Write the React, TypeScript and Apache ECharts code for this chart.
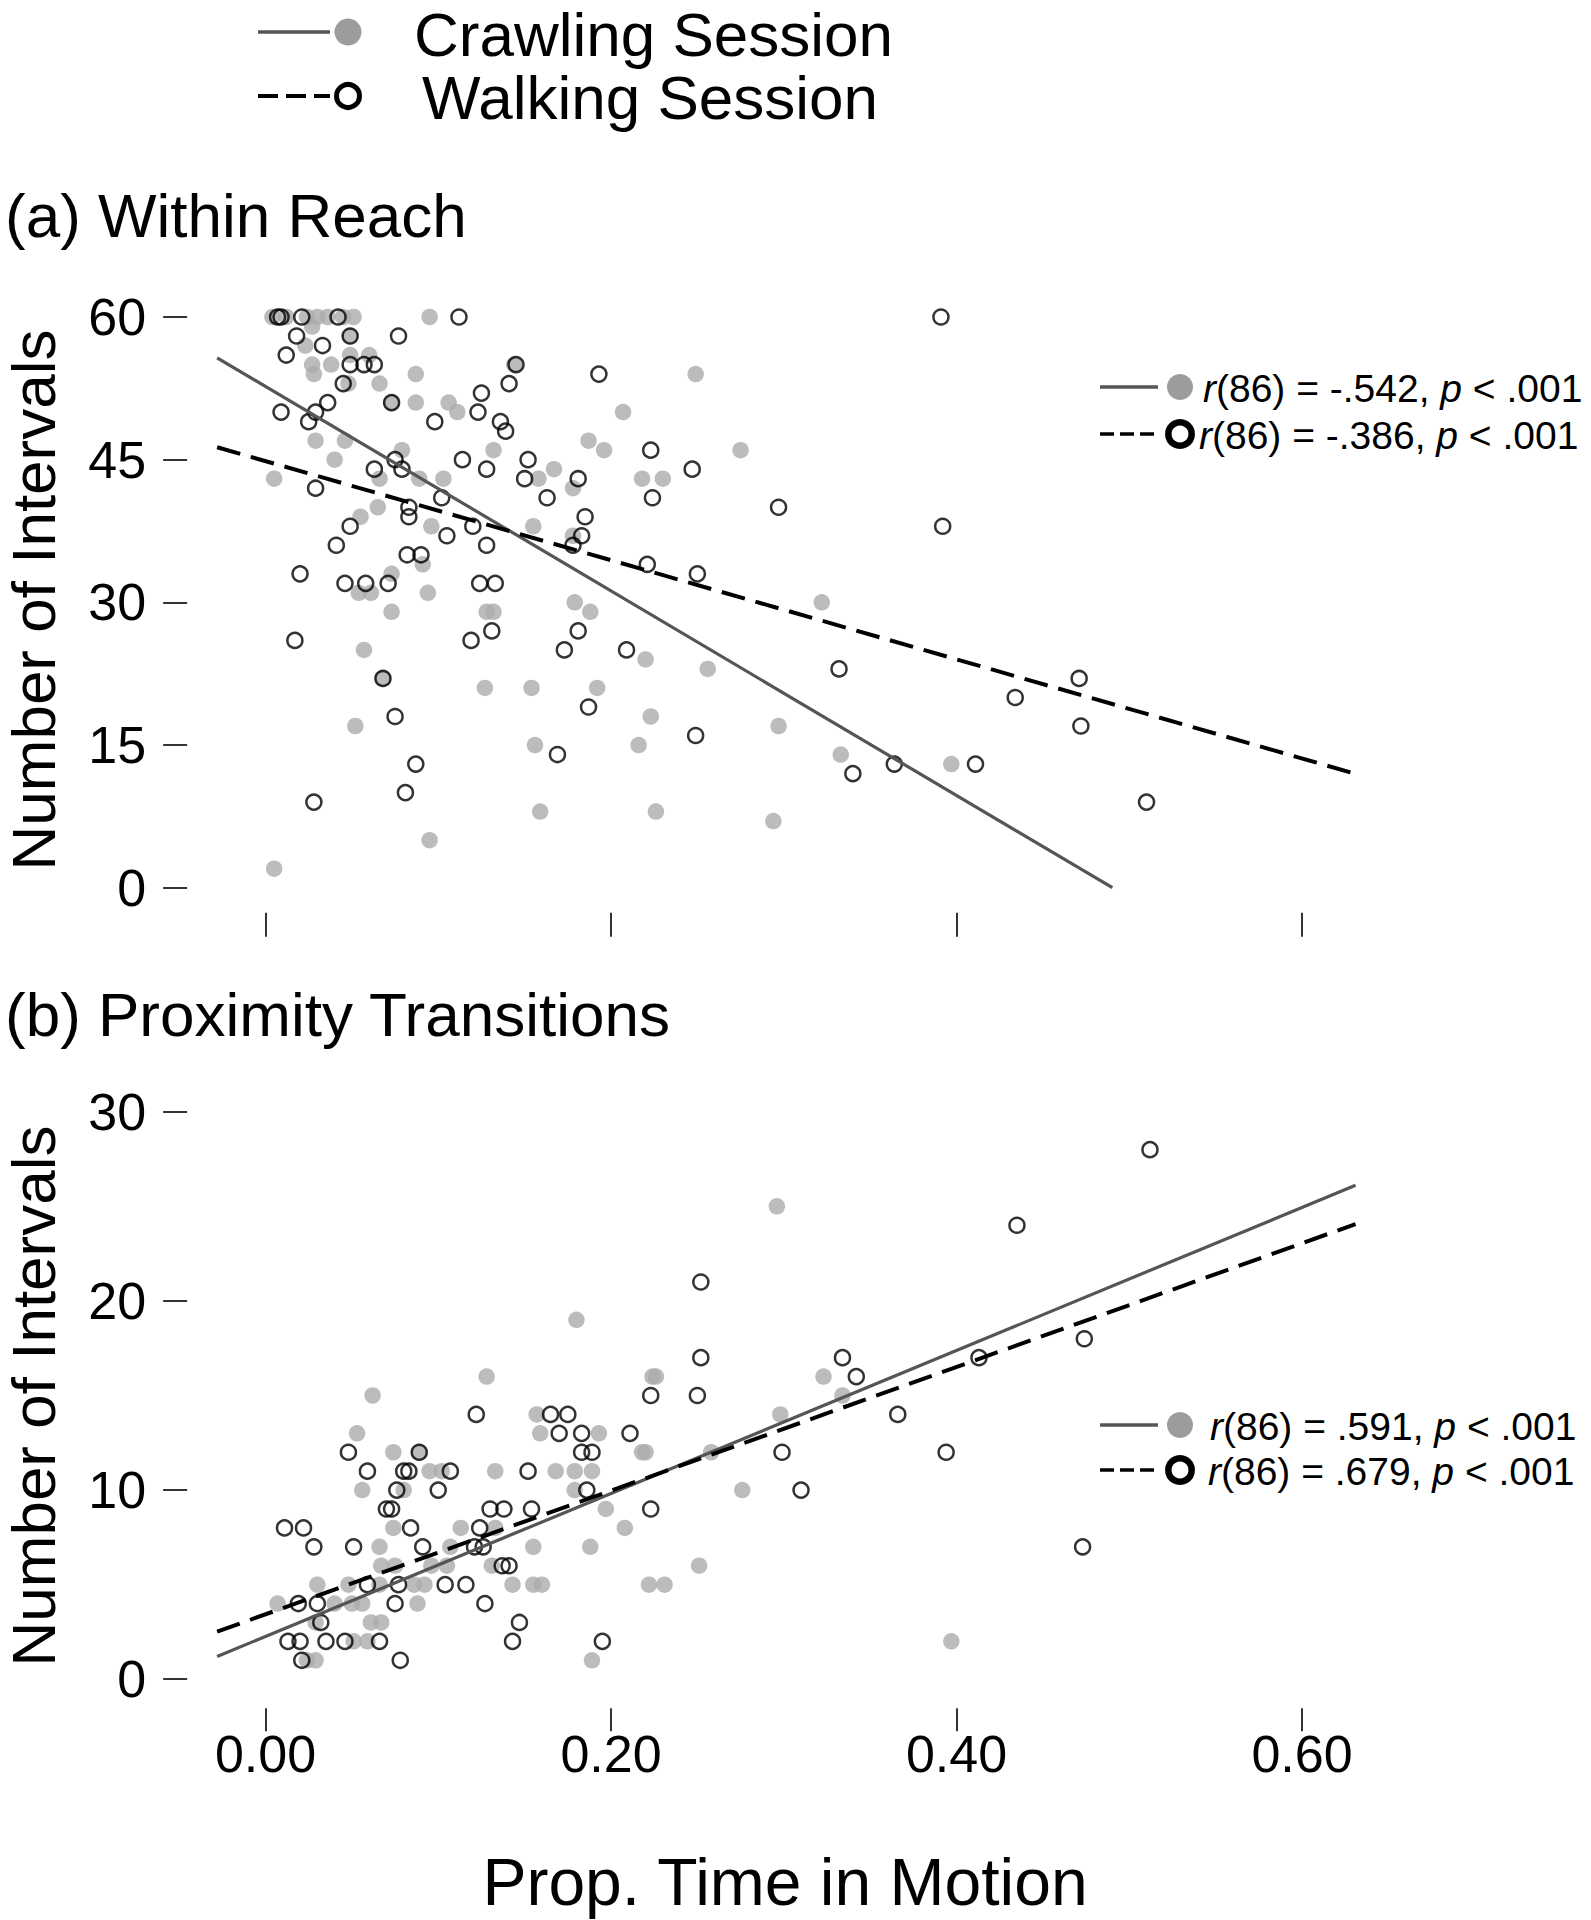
import React, { useEffect, useRef } from "react";
import * as echarts from "echarts";

const FONT = '"Liberation Sans", Arial, Helvetica, sans-serif';

// Axis definitions
const X_TICK_MIN = 0;
const X_TICK_MAX = 0.6;
const X_TICK_STEP = 0.2;
const X_PLOT_RANGE = [-0.028, 0.631];
const TOP_Y = { min: 0, max: 60, step: 15 };
const BOTTOM_Y = { min: 0, max: 30, step: 10 };

// Legend / annotation texts
const LEGEND_LABELS = ["Crawling Session", "Walking Session"];
const PANEL_TITLES = ["(a) Within Reach", "(b) Proximity Transitions"];
const Y_TITLE = "Number of Intervals";
const X_TITLE = "Prop. Time in Motion";
const TOP_STATS = ["{i|r}(86) = -.542, {i|p} < .001", "{i|r}(86) = -.386, {i|p} < .001"];
const BOTTOM_STATS = ["{i|r}(86) = .591, {i|p} < .001", "{i|r}(86) = .679, {i|p} < .001"];

// Regression fits (intercept at x = 0, slope)
const TOP_CRAWLING_FIT = { intercept: 52.7, slope: -107.5 };
const TOP_WALKING_FIT = { intercept: 44.85, slope: -52.1 };
const BOTTOM_CRAWLING_FIT = { intercept: 2.26, slope: 37.8 };
const BOTTOM_WALKING_FIT = { intercept: 3.43, slope: 32.7 };

// (a) Within Reach
const TOP_CRAWLING: [number, number][] = [
  [0.004, 60], [0.012, 60], [0.024, 60], [0.03, 60], [0.036, 60], [0.045, 60], [0.051, 60], [0.095, 60],
  [0.027, 59], [0.049, 58], [0.023, 57], [0.049, 56], [0.06, 56], [0.027, 55], [0.038, 55], [0.144, 55],
  [0.028, 54], [0.087, 54], [0.249, 54], [0.048, 53], [0.066, 53], [0.073, 51], [0.087, 51], [0.106, 51],
  [0.111, 50], [0.207, 50], [0.029, 47], [0.046, 47], [0.187, 47], [0.079, 46], [0.132, 46], [0.196, 46], [0.275, 46],
  [0.04, 45], [0.167, 44], [0.005, 43], [0.066, 43], [0.089, 43], [0.103, 43], [0.158, 43], [0.218, 43], [0.23, 43],
  [0.178, 42], [0.065, 40], [0.055, 39], [0.096, 38], [0.155, 38], [0.178, 37], [0.091, 34], [0.073, 33],
  [0.054, 31], [0.061, 31], [0.094, 31], [0.179, 30], [0.322, 30], [0.073, 29], [0.128, 29], [0.132, 29], [0.188, 29],
  [0.057, 25], [0.22, 24], [0.256, 23], [0.068, 22], [0.127, 21], [0.154, 21], [0.192, 21], [0.223, 18], [0.052, 17], [0.297, 17],
  [0.156, 15], [0.216, 15], [0.333, 14], [0.397, 13], [0.159, 8], [0.226, 8], [0.294, 7], [0.095, 5], [0.005, 2],
];

const TOP_WALKING: [number, number][] = [
  [0.007, 60], [0.009, 60], [0.021, 60], [0.042, 60], [0.112, 60], [0.391, 60],
  [0.018, 58], [0.049, 58], [0.077, 58], [0.033, 57], [0.012, 56], [0.049, 55], [0.057, 55], [0.063, 55], [0.145, 55],
  [0.193, 54], [0.045, 53], [0.141, 53], [0.125, 52], [0.036, 51], [0.073, 51], [0.009, 50], [0.029, 50], [0.123, 50],
  [0.025, 49], [0.098, 49], [0.136, 49], [0.139, 48], [0.223, 46], [0.075, 45], [0.114, 45], [0.152, 45],
  [0.063, 44], [0.079, 44], [0.128, 44], [0.247, 44], [0.15, 43], [0.181, 43], [0.029, 42], [0.102, 41], [0.163, 41], [0.224, 41],
  [0.083, 40], [0.297, 40], [0.083, 39], [0.185, 39], [0.049, 38], [0.12, 38], [0.392, 38], [0.105, 37], [0.183, 37],
  [0.041, 36], [0.128, 36], [0.178, 36], [0.082, 35], [0.09, 35], [0.221, 34], [0.02, 33], [0.25, 33],
  [0.046, 32], [0.058, 32], [0.071, 32], [0.124, 32], [0.133, 32], [0.131, 27], [0.181, 27], [0.017, 26], [0.119, 26],
  [0.173, 25], [0.209, 25], [0.332, 23], [0.068, 22], [0.471, 22], [0.434, 20], [0.187, 19], [0.075, 18], [0.249, 16],
  [0.472, 17], [0.169, 14], [0.087, 13], [0.364, 13], [0.411, 13], [0.34, 12], [0.081, 10], [0.028, 9], [0.51, 9],
];

// (b) Proximity Transitions
const BOTTOM_CRAWLING: [number, number][] = [
  [0.18, 19], [0.128, 16], [0.224, 16], [0.226, 16], [0.062, 15], [0.157, 14], [0.053, 13], [0.159, 13], [0.193, 13],
  [0.074, 12], [0.089, 12], [0.218, 12], [0.22, 12], [0.095, 11], [0.102, 11], [0.133, 11], [0.168, 11], [0.179, 11], [0.189, 11],
  [0.056, 10], [0.08, 10], [0.179, 10], [0.197, 9], [0.074, 8], [0.113, 8], [0.133, 8], [0.208, 8],
  [0.066, 7], [0.107, 7], [0.155, 7], [0.188, 7], [0.067, 6], [0.075, 6], [0.096, 6], [0.105, 6], [0.131, 6],
  [0.03, 5], [0.048, 5], [0.066, 5], [0.086, 5], [0.092, 5], [0.143, 5], [0.155, 5], [0.16, 5], [0.222, 5], [0.231, 5],
  [0.007, 4], [0.04, 4], [0.05, 4], [0.056, 4], [0.088, 4], [0.029, 3], [0.061, 3], [0.067, 3],
  [0.051, 2], [0.059, 2], [0.024, 1], [0.029, 1], [0.189, 1],
  [0.296, 25], [0.323, 16], [0.334, 15], [0.298, 14], [0.258, 12], [0.276, 10], [0.251, 6], [0.397, 2],
];

const BOTTOM_WALKING: [number, number][] = [
  [0.223, 15], [0.25, 15], [0.122, 14], [0.165, 14], [0.175, 14], [0.17, 13], [0.183, 13], [0.211, 13],
  [0.048, 12], [0.089, 12], [0.183, 12], [0.189, 12], [0.059, 11], [0.08, 11], [0.083, 11], [0.107, 11], [0.152, 11],
  [0.076, 10], [0.1, 10], [0.186, 10], [0.07, 9], [0.073, 9], [0.13, 9], [0.138, 9], [0.154, 9], [0.223, 9],
  [0.011, 8], [0.022, 8], [0.084, 8], [0.124, 8], [0.028, 7], [0.051, 7], [0.091, 7], [0.121, 7], [0.126, 7],
  [0.137, 6], [0.141, 6], [0.059, 5], [0.077, 5], [0.104, 5], [0.116, 5], [0.019, 4], [0.03, 4], [0.075, 4], [0.127, 4],
  [0.032, 3], [0.147, 3], [0.013, 2], [0.02, 2], [0.035, 2], [0.046, 2], [0.066, 2], [0.143, 2], [0.195, 2],
  [0.021, 1], [0.078, 1],
  [0.512, 28], [0.435, 24], [0.252, 21], [0.474, 18], [0.252, 17], [0.334, 17], [0.413, 17], [0.342, 16],
  [0.366, 14], [0.299, 12], [0.394, 12], [0.31, 10], [0.473, 7],
];

function fitLine(fit: { intercept: number; slope: number }): [number, number][] {
  const x0 = X_PLOT_RANGE[0];
  let x1 = X_PLOT_RANGE[1];
  const y0 = fit.intercept + fit.slope * x0;
  let y1 = fit.intercept + fit.slope * x1;
  if (y1 < 0) {
    x1 = -fit.intercept / fit.slope;
    y1 = 0;
  }
  return [
    [x0, y0],
    [x1, y1],
  ];
}

// Layout (pixels)
const W = 1591;
const H = 1920;
const X_PX_PER_UNIT = 1727.5;
const X_ZERO_PX = 265.5;
const DATA_LEFT = X_ZERO_PX + X_PLOT_RANGE[0] * X_PX_PER_UNIT;
const DATA_WIDTH = (X_PLOT_RANGE[1] - X_PLOT_RANGE[0]) * X_PX_PER_UNIT;
const TICK_WIDTH = (X_TICK_MAX - X_TICK_MIN) * X_PX_PER_UNIT;
const TOP_GRID = { top: 317, height: 570.7 };
const BOTTOM_GRID = { top: 1111.8, height: 567.4 };

const CRAWL_FILL = "#ABABAB";
const LEGEND_GRAY = "#9C9C9C";
const CRAWL_LINE = "#555555";

function App() {
  const ref = useRef<HTMLDivElement>(null);

  useEffect(() => {
    if (!ref.current) return;
    const chart = echarts.init(ref.current, undefined, { renderer: "svg" });

    const yAxisCommon = (g: number, cfg: { min: number; max: number; step: number }) => ({
      gridIndex: g,
      type: "value",
      min: cfg.min,
      max: cfg.max,
      interval: cfg.step,
      position: "left",
      offset: 30,
      axisLine: { show: false, onZero: false },
      axisTick: { show: true, length: 24, lineStyle: { color: "#000", width: 1.6 } },
      axisLabel: { color: "#000", fontSize: 52, fontFamily: FONT, margin: 41 },
      splitLine: { show: false },
    });

    const hiddenX = (g: number) => ({
      gridIndex: g,
      type: "value",
      min: X_PLOT_RANGE[0],
      max: X_PLOT_RANGE[1],
      show: false,
      axisLine: { onZero: false },
      splitLine: { show: false },
    });

    const tickX = (g: number, offset: number, len: number, showLabels: boolean) => ({
      gridIndex: g,
      type: "value",
      min: X_TICK_MIN,
      max: X_TICK_MAX,
      interval: X_TICK_STEP,
      position: "bottom",
      offset,
      axisLine: { show: false, onZero: false },
      axisTick: { show: true, length: len, lineStyle: { color: "#000", width: 1.6 } },
      axisLabel: {
        show: showLabels,
        color: "#000",
        fontSize: 52,
        fontFamily: FONT,
        margin: 20,
        formatter: (v: number) => v.toFixed(2),
      },
      splitLine: { show: false },
    });

    const hiddenY = (g: number) => ({
      gridIndex: g,
      type: "value",
      min: 0,
      max: 1,
      show: false,
      axisLine: { onZero: false },
      splitLine: { show: false },
    });

    const crawlScatter = (ax: number, data: [number, number][]) => ({
      type: "scatter",
      xAxisIndex: ax,
      yAxisIndex: ax,
      data,
      symbol: "circle",
      symbolSize: 16.5,
      itemStyle: { color: CRAWL_FILL },
      clip: false,
      silent: true,
      z: 2,
    });
    const walkScatter = (ax: number, data: [number, number][]) => ({
      type: "scatter",
      xAxisIndex: ax,
      yAxisIndex: ax,
      data,
      symbol: "circle",
      symbolSize: 15,
      itemStyle: { color: "rgba(255,255,255,0)", borderColor: "#000", borderWidth: 2.5 },
      clip: false,
      silent: true,
      z: 3,
    });
    const solidLine = (ax: number, fit: { intercept: number; slope: number }) => ({
      type: "line",
      xAxisIndex: ax,
      yAxisIndex: ax,
      data: fitLine(fit),
      symbol: "none",
      lineStyle: { color: CRAWL_LINE, width: 3.2 },
      silent: true,
      z: 4,
    });
    const dashedLine = (ax: number, fit: { intercept: number; slope: number }) => ({
      type: "line",
      xAxisIndex: ax,
      yAxisIndex: ax,
      data: fitLine(fit),
      symbol: "none",
      lineStyle: { color: "#000", width: 4, type: [24, 11] },
      silent: true,
      z: 4,
    });

    const txt = (
      text: string,
      x: number,
      y: number,
      size: number,
      align: string,
      extra: any = {}
    ) => {
      const { styleExtra, ...rest } = extra;
      return {
        type: "text",
        x,
        y,
        ...rest,
        style: {
          text,
          fontSize: size,
          fontFamily: FONT,
          fill: "#000",
          align,
          verticalAlign: "middle",
          textAlign: align,
          textVerticalAlign: "middle",
          lineHeight: Math.round(size * 0.9),
          ...(styleExtra || {}),
        },
      };
    };

    const legendPair = (
      x1: number,
      x2: number,
      cx: number,
      yA: number,
      yB: number,
      dotR: number,
      ringR: number,
      ringW: number,
      solidW: number,
      dash: number[],
      dashW: number
    ) => [
      { type: "line", shape: { x1, y1: yA, x2, y2: yA }, style: { stroke: CRAWL_LINE, lineWidth: solidW } },
      { type: "circle", shape: { cx, cy: yA, r: dotR }, style: { fill: LEGEND_GRAY } },
      { type: "line", shape: { x1, y1: yB, x2, y2: yB }, style: { stroke: "#000", lineWidth: dashW, lineDash: dash } },
      { type: "circle", shape: { cx, cy: yB, r: ringR }, style: { fill: "none", stroke: "#000", lineWidth: ringW } },
    ];

    const statRich = { i: { fontStyle: "italic", fontSize: 39, fontFamily: FONT, fill: "#000" } };

    const graphic: any[] = [
      ...legendPair(258, 330, 348, 32, 96, 13.5, 11.5, 5, 3.6, [20, 8], 4),
      txt(LEGEND_LABELS[0], 414, 34, 62, "left"),
      txt(LEGEND_LABELS[1], 422, 97, 62, "left"),
      txt(PANEL_TITLES[0], 5, 215, 62, "left"),
      txt(PANEL_TITLES[1], 5, 1014, 62, "left"),
      txt(Y_TITLE, 33, 600, 62, "center", { rotation: Math.PI / 2 }),
      txt(Y_TITLE, 33, 1396, 62, "center", { rotation: Math.PI / 2 }),
      txt(X_TITLE, 785, 1882, 66, "center"),
      ...legendPair(1100, 1158, 1180, 387, 434, 13, 11.7, 6.5, 3.4, [14, 6], 3.4),
      txt(TOP_STATS[0], 1203, 388, 39, "left", { styleExtra: { rich: statRich } }),
      txt(TOP_STATS[1], 1199, 435, 39, "left", { styleExtra: { rich: statRich } }),
      ...legendPair(1100, 1158, 1180, 1425, 1470, 13, 11.7, 6.5, 3.4, [14, 6], 3.4),
      txt(BOTTOM_STATS[0], 1210, 1426, 39, "left", { styleExtra: { rich: statRich } }),
      txt(BOTTOM_STATS[1], 1208, 1471, 39, "left", { styleExtra: { rich: statRich } }),
    ];

    chart.setOption({
      animation: false,
      backgroundColor: "#fff",
      grid: [
        { left: DATA_LEFT, top: TOP_GRID.top, width: DATA_WIDTH, height: TOP_GRID.height },
        { left: X_ZERO_PX, top: TOP_GRID.top, width: TICK_WIDTH, height: TOP_GRID.height },
        { left: DATA_LEFT, top: BOTTOM_GRID.top, width: DATA_WIDTH, height: BOTTOM_GRID.height },
        { left: X_ZERO_PX, top: BOTTOM_GRID.top, width: TICK_WIDTH, height: BOTTOM_GRID.height },
      ],
      xAxis: [hiddenX(0), tickX(1, 25, 24, false), hiddenX(2), tickX(3, 29, 23, true)],
      yAxis: [yAxisCommon(0, TOP_Y), hiddenY(1), yAxisCommon(2, BOTTOM_Y), hiddenY(3)],
      series: [
        crawlScatter(0, TOP_CRAWLING),
        walkScatter(0, TOP_WALKING),
        solidLine(0, TOP_CRAWLING_FIT),
        dashedLine(0, TOP_WALKING_FIT),
        crawlScatter(2, BOTTOM_CRAWLING),
        walkScatter(2, BOTTOM_WALKING),
        solidLine(2, BOTTOM_CRAWLING_FIT),
        dashedLine(2, BOTTOM_WALKING_FIT),
      ],
      graphic,
    });

    return () => chart.dispose();
  }, []);

  return (
    <div
      ref={ref}
      style={{ position: "absolute", left: 0, top: 0, width: W, height: H, background: "#fff" }}
    />
  );
}

export default App;
